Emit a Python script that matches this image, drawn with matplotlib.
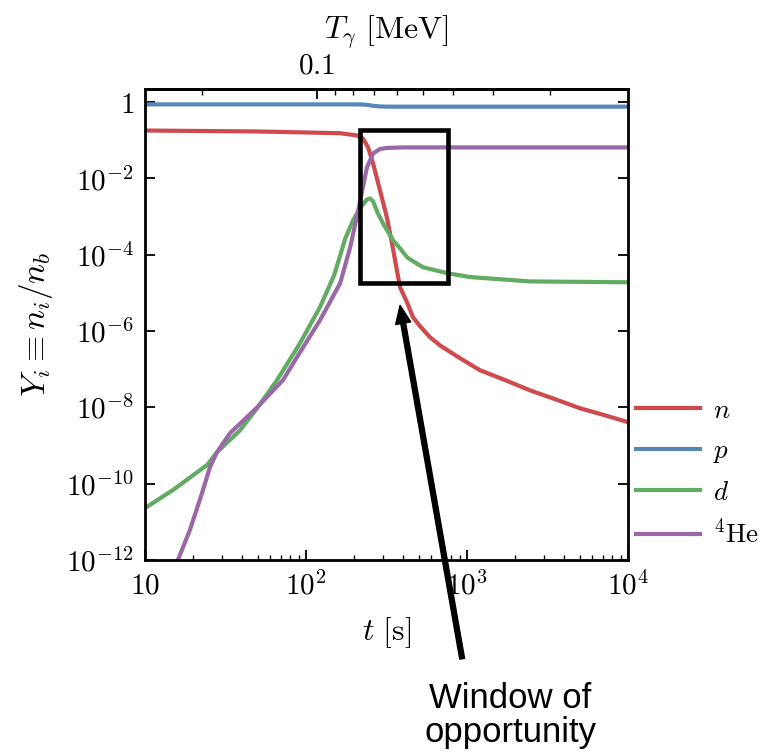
import numpy as np
import matplotlib
matplotlib.use('Agg')
import matplotlib.pyplot as plt
import matplotlib.ticker as ticker

plt.rcParams['mathtext.fontset'] = 'cm'
plt.rcParams['font.family'] = 'DejaVu Serif'

# abundances, t in seconds
t_n = [10, 50, 100, 163, 207, 226, 243, 261, 288, 318, 342, 367, 384, 424, 462,
       511, 589, 680, 906, 1205, 1722, 2460, 3524, 5030, 7194, 10000]
Y_n = [0.18, 0.17, 0.16, 0.153, 0.134, 0.111, 0.065, 0.0247, 4.9e-3, 9.5e-4, 2.0e-4,
       3.9e-5, 1.4e-5, 5.7e-6, 2.3e-6, 1.34e-6, 6.9e-7, 4.2e-7, 1.94e-7, 9.4e-8,
       5.2e-8, 2.8e-8, 1.64e-8, 9.5e-9, 6.2e-9, 4.1e-9]

t_p = [10, 100, 200, 226, 243, 261, 288, 320, 400, 1000, 10000]
Y_p = [0.87, 0.87, 0.87, 0.865, 0.84, 0.80, 0.77, 0.76, 0.76, 0.76, 0.76]

t_d = [10, 14.9, 24.3, 28.0, 38.9, 49.7, 66.1, 91.8, 122, 150, 175, 196, 211, 223,
       239, 250, 261, 280, 301, 324, 347, 384, 424, 475, 533, 751, 1045, 2460, 10000]
Y_d = [2.3e-11, 6.8e-11, 3.1e-10, 6.7e-10, 2.5e-9, 9.5e-9, 5.2e-8, 4.8e-7, 4.2e-6,
       3.0e-5, 2.6e-4, 8.0e-4, 1.37e-3, 1.96e-3, 2.8e-3, 3.0e-3, 2.5e-3, 1.2e-3,
       6.6e-4, 3.9e-4, 2.4e-4, 1.47e-4, 8.6e-5, 6.3e-5, 4.7e-5, 3.3e-5, 2.6e-5,
       2.0e-5, 1.9e-5]

t_he = [14, 16.0, 19.0, 22.6, 25.3, 28.0, 33.7, 49.7, 72.0, 91.8, 122, 163, 188,
        211, 239, 261, 288, 318, 400, 1000, 10000]
Y_he = [2.5e-13, 1e-12, 6.1e-12, 5.7e-11, 2.7e-10, 6.7e-10, 2.1e-9, 1.0e-8, 5.2e-8,
        2.8e-7, 1.9e-6, 1.8e-5, 1.56e-4, 1.45e-3, 0.0194, 0.045, 0.059, 0.063,
        0.065, 0.065, 0.065]

labels = [r'$n$', r'$p$', r'$d$', r'$^4\mathrm{He}$']
colors = ['#cf4a4c', '#5787b5', '#62ab62', '#9b68a7']

# photon temperature vs time (for the top axis)
t_T = [5, 10, 22.6, 117, 151, 196, 264, 367, 533, 819, 1449, 3280, 10000, 20000]
T_T = [0.38, 0.28, 0.2, 0.1, 0.09, 0.08, 0.07, 0.06, 0.05, 0.04, 0.03, 0.02,
       0.01145, 0.0081]

# window of opportunity box
win_t = (216, 762)
win_Y = (1.78e-5, 0.19)


def t_to_T(t):
    lt = np.log10(np.clip(t, 1e-30, None))
    return 10 ** np.interp(lt, np.log10(t_T), np.log10(T_T))


def T_to_t(T):
    lT = np.log10(np.clip(T, 1e-30, None))
    return 10 ** np.interp(lT, np.log10(T_T)[::-1], np.log10(t_T)[::-1])


def log_fmt(v, pos):
    if v <= 0:
        return ''
    e = int(round(np.log10(v)))
    if abs(e) < 2:
        return f'${v:g}$'
    return f'$10^{{{e}}}$'


fig = plt.figure(figsize=(7.69, 7.52), dpi=100)
ax = fig.add_axes([0.1886, 0.2553, 0.628, 0.6263])

for t, Y, lab, c in zip([t_n, t_p, t_d, t_he], [Y_n, Y_p, Y_d, Y_he], labels, colors):
    ax.plot(t, Y, color=c, lw=3.0, label=lab, solid_joinstyle='round')

ax.set_xscale('log')
ax.set_yscale('log')
ax.set_xlim(10, 1e4)
ax.set_ylim(1e-12, 2.2)

ax.xaxis.set_major_locator(ticker.LogLocator(base=10))
ax.xaxis.set_minor_locator(ticker.LogLocator(base=10, subs=np.arange(2, 10)))
ax.xaxis.set_major_formatter(ticker.FuncFormatter(log_fmt))
ax.xaxis.set_minor_formatter(ticker.NullFormatter())
ax.yaxis.set_major_locator(ticker.LogLocator(base=100))
ax.yaxis.set_minor_locator(ticker.NullLocator())
ax.yaxis.set_major_formatter(ticker.FuncFormatter(log_fmt))

ax.tick_params(which='both', direction='in', top=False, right=True, labelsize=21, pad=8)
ax.tick_params(which='major', length=7, width=1.3)
ax.tick_params(which='minor', length=3.5, width=1.0)
for s in ax.spines.values():
    s.set_linewidth(2)

ax.set_xlabel(r'$t\ [\mathrm{s}]$', fontsize=23, labelpad=11)
ax.set_ylabel(r'$Y_i \equiv n_i/n_b$', fontsize=24, labelpad=8)

secax = ax.secondary_xaxis('top', functions=(t_to_T, T_to_t))
secax.set_xticks([0.1])
secax.xaxis.set_minor_locator(ticker.LogLocator(base=10, subs=np.arange(2, 10)))
secax.xaxis.set_major_formatter(ticker.FuncFormatter(log_fmt))
secax.xaxis.set_minor_formatter(ticker.NullFormatter())
secax.tick_params(which='both', direction='in', labelsize=21, pad=7)
secax.tick_params(which='major', length=7, width=1.3)
secax.tick_params(which='minor', length=4, width=1.0)
secax.spines['top'].set_linewidth(2)
secax.set_xlabel(r'$T_\gamma\ [\mathrm{MeV}]$', fontsize=23, labelpad=9)

ax.add_patch(plt.Rectangle((win_t[0], win_Y[0]), win_t[1] - win_t[0], win_Y[1] - win_Y[0],
                           fill=False, ec='black', lw=3.3, zorder=5))

ax.annotate('', xy=(384, 4.7e-6), xycoords='data',
            xytext=(0.601, 0.124), textcoords='figure fraction',
            arrowprops=dict(facecolor='black', edgecolor='black', width=3.5,
                            headwidth=11, headlength=13, shrink=0))
fig.text(0.664, 0.049, 'Window of\nopportunity', family='Liberation Sans', fontsize=25,
         ha='center', va='center', linespacing=1.05)

ax.legend(loc='center left', bbox_to_anchor=(1.0, 0.185), frameon=False, fontsize=19.5,
          handlelength=2.35, handletextpad=0.5, labelspacing=0.5, borderaxespad=0,
          borderpad=0.3)

fig.savefig('out.png', dpi=100)
